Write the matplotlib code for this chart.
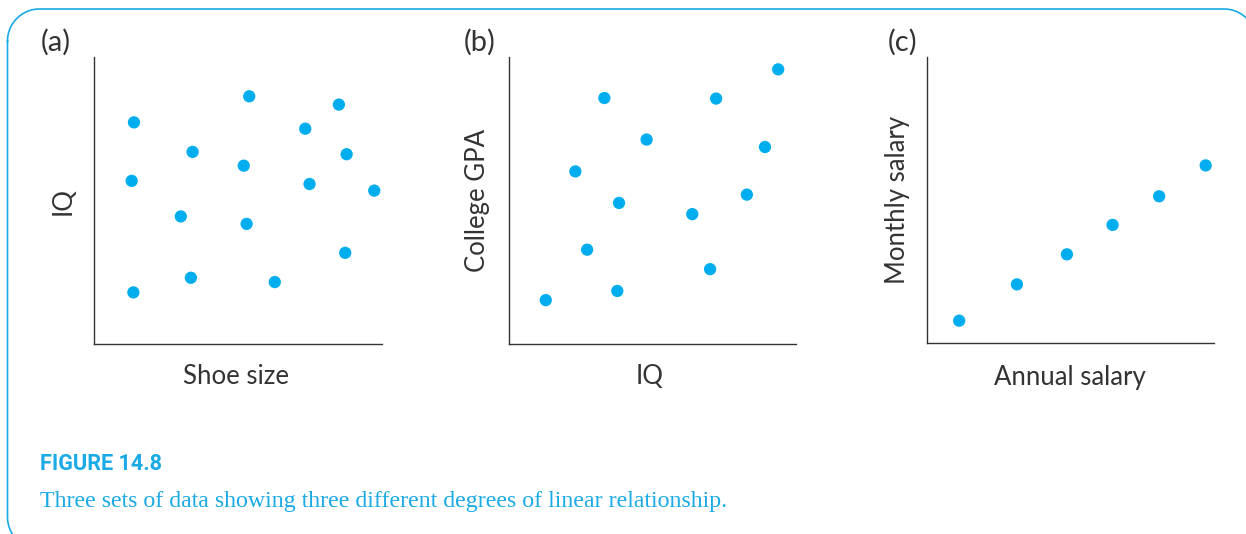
import matplotlib
matplotlib.use("Agg")
import numpy as np
import matplotlib.pyplot as plt
from matplotlib.lines import Line2D

W, H = 1246, 534
DOT = "#00AEEF"
BLUE = "#1AAAE6"
INK = "#333333"

# Panel (a): Shoe size vs IQ (no relationship)
a_x = [1.38, 5.39, 8.51, 7.34, 3.42, 5.20, 8.78, 1.30, 7.49, 9.74, 3.01, 5.30, 8.73, 3.36, 6.28, 1.36]
a_y = [7.73, 8.64, 8.35, 7.51, 6.70, 6.22, 6.62, 5.69, 5.58, 5.35, 4.45, 4.19, 3.18, 2.31, 2.16, 1.80]
# Panel (b): IQ vs College GPA (moderate relationship)
b_x = [9.38, 3.33, 7.22, 4.80, 8.92, 2.32, 3.84, 8.29, 6.39, 2.73, 7.01, 3.78, 1.29]
b_y = [9.58, 8.58, 8.56, 7.13, 6.87, 6.02, 4.92, 5.21, 4.53, 3.29, 2.61, 1.85, 1.53]
# Panel (c): Annual vs Monthly salary (perfect relationship)
c_x = [1.12, 3.13, 4.87, 6.46, 8.08, 9.70]
c_y = [0.79, 2.06, 3.11, 4.14, 5.14, 6.22]

panel_tags = ["(a)", "(b)", "(c)"]
x_labels = ["Shoe size", "IQ", "Annual salary"]
y_labels = ["IQ", "College GPA", "Monthly salary"]

fig = plt.figure(figsize=(W / 100, H / 100), dpi=100)

def fx(x):
    return x / W

def fy(y):
    return 1 - y / H

# rounded frame, built in image pixel coords (y down)
L, T, R, B, RAD = 7.5, 9.0, 1256.0, 549.0, 32.0
def arc(cx, cy, a0, a1):
    t = np.radians(np.linspace(a0, a1, 30))
    return cx + RAD * np.cos(t), cy - RAD * np.sin(t)
segs_x, segs_y = [], []
for (cx, cy, a0, a1) in [(L + RAD, T + RAD, 180, 90), (R - RAD, T + RAD, 90, 0),
                         (R - RAD, B - RAD, 0, -90), (L + RAD, B - RAD, -90, -180)]:
    ax_, ay_ = arc(cx, cy, a0, a1)
    segs_x.extend(ax_)
    segs_y.extend(ay_)
segs_x.append(segs_x[0])
segs_y.append(segs_y[0])
fig.lines.append(Line2D([fx(v) for v in segs_x], [fy(v) for v in segs_y],
                        transform=fig.transFigure, color=BLUE, linewidth=1.2))

# axes geometry in pixels: (left, top, right, bottom)
geoms = [(94.3, 57.3, 381.7, 344.0), (508.7, 57.3, 796.0, 344.0), (927.0, 57.3, 1214.3, 343.3)]
xs = [a_x, b_x, c_x]
ys = [a_y, b_y, c_y]
tag_pos = [(56, 42), (480, 42), (903, 42)]
xlab_pos = [(236, 377), (650, 377), (1070, 377)]
ylab_pos = [(63, 201), (478, 201), (897, 200)]

FONT = "Lato"
for i in range(3):
    l, t, r, b = geoms[i]
    ax = fig.add_axes([fx(l), fy(b), (r - l) / W, (b - t) / H])
    ax.scatter(xs[i], ys[i], s=78, color=DOT, edgecolors="none", zorder=3)
    ax.set_xlim(0, 10)
    ax.set_ylim(0, 10)
    ax.set_xticks([])
    ax.set_yticks([])
    for s in ["top", "right"]:
        ax.spines[s].set_visible(False)
    for s in ["left", "bottom"]:
        ax.spines[s].set_color(INK)
        ax.spines[s].set_linewidth(1.0)
    ax.patch.set_alpha(0)
    fig.text(fx(tag_pos[i][0]), fy(tag_pos[i][1]), panel_tags[i], ha="center", va="center",
             fontsize=21, color=INK, family=FONT)
    fig.text(fx(xlab_pos[i][0]), fy(xlab_pos[i][1]), x_labels[i], ha="center", va="center",
             fontsize=18.5, color=INK, family=FONT)
    fig.text(fx(ylab_pos[i][0]), fy(ylab_pos[i][1]), y_labels[i], ha="center", va="center",
             fontsize=18.5, color=INK, family=FONT, rotation=90)

fig.text(fx(40), fy(464), "FIGURE 14.8", ha="left", va="center", fontsize=15.6,
         color=BLUE, family="Roboto", fontweight="bold")
fig.text(fx(40), fy(501), "Three sets of data showing three different degrees of linear relationship.",
         ha="left", va="center", fontsize=17.2, color=BLUE, family="Liberation Serif")

fig.savefig("out.png", dpi=100)
